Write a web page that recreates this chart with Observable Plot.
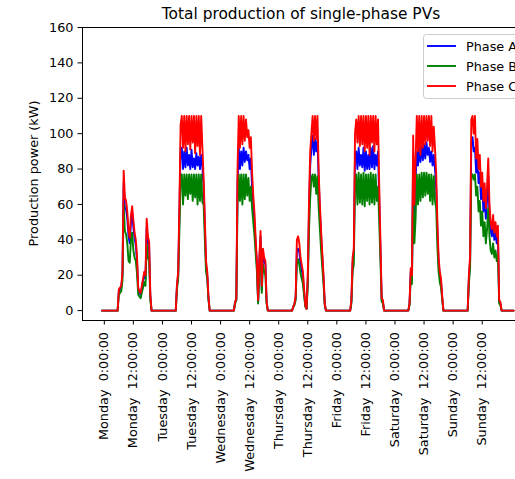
<!DOCTYPE html>
<html>
<head>
<meta charset="utf-8">
<script src="https://cdn.jsdelivr.net/npm/d3@7"></script>
<script src="https://cdn.jsdelivr.net/npm/@observablehq/plot@0.6"></script>
<style>
  html, body { margin: 0; padding: 0; background: #fff; overflow: hidden; }
  #chart { width: 515px; height: 479px; overflow: hidden; }
</style>
</head>
<body>
<div id="chart"></div>
<script>
// Week of half-hourly production readings, one array per day (05:30 .. 20:00).
const titleText = "Total production of single-phase PVs";
const yLabel = "Production power (kW)";
const seriesNames = ["Phase A", "Phase B", "Phase C"];
const seriesColors = ["#0000ff", "#008000", "#ff0000"];

const tickHours = [0, 12, 24, 36, 48, 60, 72, 84, 96, 108, 120, 132, 144, 156];
const tickLabels = [
  "Monday\u00a0 0:00:00", "Monday\u00a0 12:00:00",
  "Tuesday\u00a0 0:00:00", "Tuesday\u00a0 12:00:00",
  "Wednesday\u00a0 0:00:00", "Wednesday\u00a0 12:00:00",
  "Thursday\u00a0 0:00:00", "Thursday\u00a0 12:00:00",
  "Friday\u00a0 0:00:00", "Friday\u00a0 12:00:00",
  "Saturday\u00a0 0:00:00", "Saturday\u00a0 12:00:00",
  "Sunday\u00a0 0:00:00", "Sunday\u00a0 12:00:00"
];
const yTicks = [0, 20, 40, 60, 80, 100, 120, 140, 160];

// sample times within each day (hours)
const slotHours = [5.5, 6, 6.5, 7, 7.5, 8, 8.5, 9, 9.5, 10, 10.5, 11, 11.5, 12, 12.5,
  13, 13.5, 14, 14.5, 15, 15.5, 16, 16.5, 17, 17.5, 18, 18.5, 19, 19.5, 20];
// first and last reading of the week (hours from Monday 0:00), both at zero
const recordStart = -1;
const recordEnd = 169;

const phaseA = [
  [0,11,12,13,20, 72,58,57,52,42, 38,50,55,47,41, 37,28,12,10,9, 13,17,20,18,47, 39,36,8,0,0],
  [0,14,20,55,92, 92,80,90,81,92, 82,88,80,91,81, 86,80,89,82,87, 80,88,81,70,48, 26,20,7,0,0],
  [0,5,6,72,92, 80,90,82,92,84, 90,85,88,80,86, 70,60,50,37,26, 5,28,42,12,32, 28,26,5,0,0],
  [0,2,4,7,34, 35,33,26,23,19, 10,3,1,18,56, 82,92,99,88,97, 90,96,74,56,42, 30,18,4,0,0],
  [0,5,27,32,88, 90,80,92,82,88, 81,92,79,90,80, 88,80,92,81,93, 80,88,82,90,62, 34,6,5,0,0],
  [0,4,22,18,88, 52,74,90,82,92, 84,93,85,94,86, 95,88,92,84,90, 82,88,80,70,45, 27,20,16,7,0],
  [0,0,18,28,95, 98,90,92,78,86, 72,78,63,70,56, 64,52,62,76,54, 45,42,48,40,44, 38,42,5,4,0]
];
const phaseB = [
  [0,9,10,11,17, 60,45,43,38,28, 27,40,44,34,30, 28,21,9,8,7, 10,13,16,14,38, 30,28,6,0,0],
  [0,12,18,45,75, 77,60,77,65,77, 63,77,66,77,62, 77,64,77,60,77, 62,77,61,60,40, 22,18,6,0,0],
  [0,4,6,60,77, 62,77,60,77,63, 77,65,75,62,70, 58,50,42,32,22, 4,22,34,10,26, 22,20,4,0,0],
  [0,2,3,6,27, 29,26,21,18,15, 8,2,1,14,45, 64,75,77,70,77, 66,76,58,46,34, 24,15,3,0,0],
  [0,4,22,26,72, 77,60,78,61,77, 60,78,59,77,62, 77,60,78,61,77, 60,77,62,70,50, 28,5,4,0,0],
  [0,3,18,15,70, 38,52,77,60,77, 62,78,64,78,65, 78,66,77,62,77, 60,76,62,58,36, 22,16,13,6,0],
  [0,0,15,24,76, 77,74,77,65,70, 56,62,48,56,42, 50,38,46,58,42, 34,32,38,30,34, 28,32,4,3,0]
];
const phaseC = [
  [0,12,13,14,22, 79,64,62,56,45, 41,54,59,51,44, 40,31,13,11,10, 14,18,22,20,52, 42,39,9,0,0],
  [0,15,22,60,105, 110,92,110,90,110, 94,110,91,110,95, 110,89,110,93,110, 88,110,92,75,52, 28,22,8,0,0],
  [0,5,7,80,110, 92,110,94,110,96, 108,98,102,92,98, 78,65,55,40,28, 6,30,45,14,35, 30,28,5,0,0],
  [0,2,4,8,40, 42,38,30,26,22, 12,3,1,20,62, 90,100,110,96,110, 97,110,78,60,45, 32,20,4,0,0],
  [0,6,30,35,100, 108,95,110,93,110, 94,110,90,110,92, 110,88,110,95,110, 90,110,94,108,70, 38,7,6,0,0],
  [0,4,24,20,99, 60,85,110,90,110, 88,110,92,110,94, 110,96,110,93,110, 90,104,92,78,50, 30,22,18,8,0],
  [0,0,20,31,108, 110,100,110,86,97, 80,88,70,78,62, 72,58,70,86,60, 50,46,54,44,50, 42,48,6,5,0]
];

// flatten a week of daily readings into {hour, kw} rows
function weekRows(days) {
  const rows = [{hour: recordStart, kw: 0}];
  days.forEach((vals, d) => vals.forEach((v, i) => rows.push({hour: 24 * d + slotHours[i], kw: v})));
  rows.push({hour: recordEnd, kw: 0});
  return rows;
}

const labelByHour = new Map(tickHours.map((h, i) => [h, tickLabels[i]]));
const font = "DejaVu Sans, Verdana, sans-serif";

const chart = Plot.plot({
  width: 545,
  height: 479,
  marginLeft: 82,
  marginRight: 10,
  marginTop: 27,
  marginBottom: 159,
  style: {fontFamily: font, fontSize: "12.8px", color: "#000", background: "#fff", maxWidth: "none", overflow: "visible"},
  x: {domain: [-9, 178]},
  y: {domain: [-5.6, 160]},
  marks: [
    Plot.line(weekRows(phaseA), {x: "hour", y: "kw", stroke: seriesColors[0], strokeWidth: 1.9}),
    Plot.line(weekRows(phaseB), {x: "hour", y: "kw", stroke: seriesColors[1], strokeWidth: 1.9}),
    Plot.line(weekRows(phaseC), {x: "hour", y: "kw", stroke: seriesColors[2], strokeWidth: 1.9}),
    Plot.frame({stroke: "#000", strokeWidth: 1}),
    Plot.axisY({ticks: yTicks, tickSize: 4.5, tickPadding: 4.5, label: null, fontSize: 12.8}),
    Plot.axisX({ticks: tickHours, tickFormat: d => labelByHour.get(d), tickRotate: -90,
                tickSize: 4.5, tickPadding: 7, label: null, fontSize: 12.8})
  ]
});

const svg = d3.select(chart);

// title
svg.append("text")
  .attr("x", 301).attr("y", 19)
  .attr("text-anchor", "middle")
  .style("font-family", font).style("font-size", "15.4px").attr("fill", "#000")
  .text(titleText);

// y axis label
svg.append("text")
  .attr("transform", "translate(33,173.5) rotate(-90)")
  .attr("text-anchor", "middle").attr("dominant-baseline", "central")
  .style("font-family", font).style("font-size", "12.8px").attr("fill", "#000")
  .text(yLabel);

// legend
const lg = svg.append("g");
lg.append("rect")
  .attr("x", 423.5).attr("y", 34.5).attr("width", 106).attr("height", 64).attr("rx", 3)
  .attr("fill", "#fff").attr("fill-opacity", 0.8).attr("stroke", "#cccccc");
seriesNames.forEach((name, i) => {
  const cy = 46 + 20 * i;
  lg.append("line").attr("x1", 427).attr("x2", 456).attr("y1", cy).attr("y2", cy)
    .attr("stroke", seriesColors[i]).attr("stroke-width", 1.9);
  lg.append("text").attr("x", 466).attr("y", cy)
    .attr("text-anchor", "start").attr("dominant-baseline", "central")
    .style("font-family", font).style("font-size", "12.8px").attr("fill", "#000")
    .text(name);
});

document.getElementById("chart").appendChild(chart);
</script>
</body>
</html>
